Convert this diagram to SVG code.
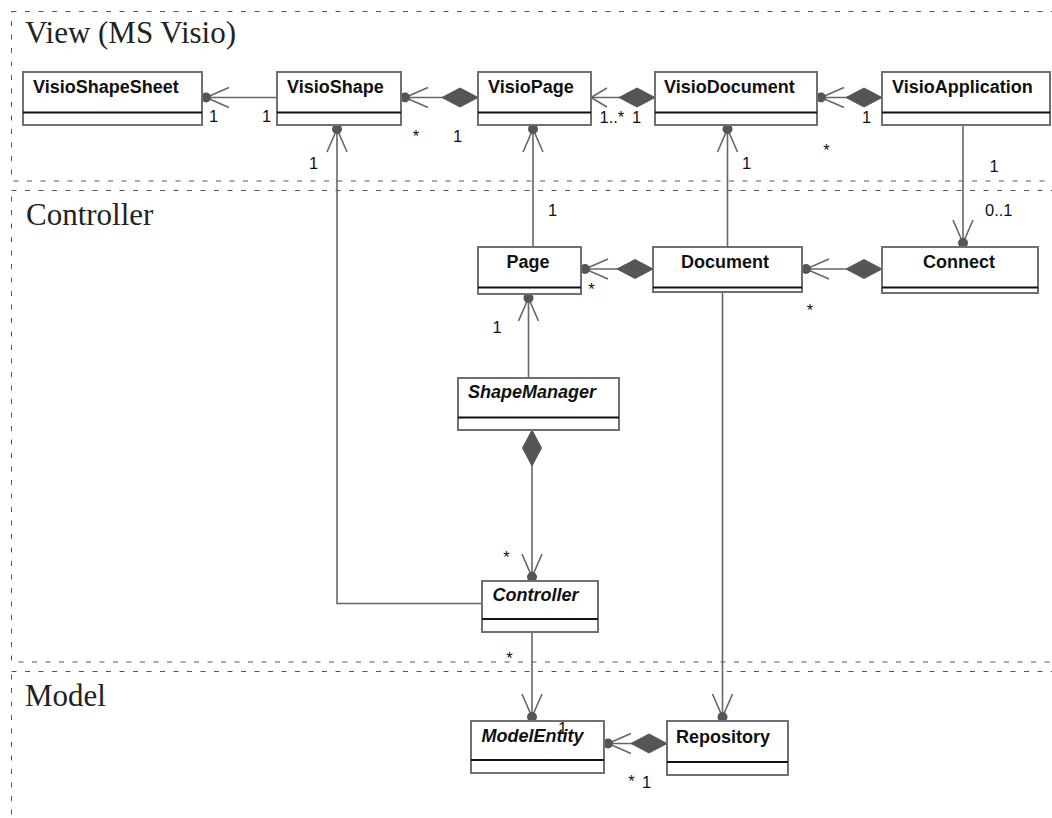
<svg xmlns="http://www.w3.org/2000/svg" width="1052" height="818" viewBox="0 0 1052 818">
<style>
.lane{fill:none;stroke:#555;stroke-width:1;stroke-dasharray:5 8.5}
.lt{font-family:"Liberation Serif","Times New Roman",serif;font-size:31px;fill:#222}
.box{fill:#fff;stroke:#707070;stroke-width:2}
.div{stroke:#111;stroke-width:2}
.name{font-family:"Liberation Sans",Arial,sans-serif;font-size:18px;font-weight:bold;fill:#111}
.it{font-style:italic}
.c{text-anchor:middle}
.con{fill:none;stroke:#666;stroke-width:1.6}
.lbl{font-family:"Liberation Sans",Arial,sans-serif;font-size:16.5px;fill:#111}
</style>
<defs>
<marker id="arrowDot" markerUnits="userSpaceOnUse" orient="auto" refX="0" refY="0" markerWidth="40" markerHeight="30" overflow="visible">
<path d="M-27,-10 L-4,0 L-27,10" fill="none" stroke="#666" stroke-width="1.6"/>
<circle cx="-4" cy="0" r="5" fill="#555"/>
</marker>
<marker id="arrowOpen" markerUnits="userSpaceOnUse" orient="auto" refX="0" refY="0" markerWidth="40" markerHeight="30" overflow="visible">
<path d="M-16,-9.5 L0,0 L-16,9.5" fill="none" stroke="#666" stroke-width="1.6"/>
</marker>
<marker id="diamond" markerUnits="userSpaceOnUse" orient="auto" refX="0" refY="0" markerWidth="40" markerHeight="30" overflow="visible">
<path d="M0,0 L18,-9.5 L36,0 L18,9.5 Z" fill="#555" stroke="#555" stroke-width="1"/>
</marker>
</defs>

<g id="lanes">
<rect class="lane" x="11.5" y="11.5" width="1100" height="169.5"/>
<rect class="lane" x="11.5" y="190.5" width="1100" height="471.5"/>
<rect class="lane" x="11.5" y="671.5" width="1100" height="200"/>
<text class="lt" x="25" y="43">View (MS Visio)</text>
<text class="lt" x="26" y="225">Controller</text>
<text class="lt" x="25" y="706">Model</text>
</g>

<g id="connectors">
<path class="con" d="M277,97.5 H202" marker-end="url(#arrowDot)"/>
<path class="con" d="M478,97.5 H401" marker-start="url(#diamond)" marker-end="url(#arrowDot)"/>
<path class="con" d="M655,97.5 H591" marker-start="url(#diamond)" marker-end="url(#arrowOpen)"/>
<path class="con" d="M882,97.5 H817" marker-start="url(#diamond)" marker-end="url(#arrowDot)"/>
<path class="con" d="M482,603.5 H337 V125" marker-end="url(#arrowDot)"/>
<path class="con" d="M533,247 V125" marker-end="url(#arrowDot)"/>
<path class="con" d="M727.5,247 V125" marker-end="url(#arrowDot)"/>
<path class="con" d="M963,125 V247" marker-end="url(#arrowDot)"/>
<path class="con" d="M653,269 H581" marker-start="url(#diamond)" marker-end="url(#arrowDot)"/>
<path class="con" d="M882,269 H802" marker-start="url(#diamond)" marker-end="url(#arrowDot)"/>
<path class="con" d="M528.5,378 V294" marker-end="url(#arrowDot)"/>
<path class="con" d="M532,430 V581" marker-start="url(#diamond)" marker-end="url(#arrowDot)"/>
<path class="con" d="M532,632 V721" marker-end="url(#arrowDot)"/>
<path class="con" d="M722.5,292 V721" marker-end="url(#arrowDot)"/>
<path class="con" d="M667,743.5 H604" marker-start="url(#diamond)" marker-end="url(#arrowDot)"/>
<g class="lbl">
<text class="c" x="213.5" y="121.5">1</text>
<text class="c" x="266.5" y="121.5">1</text>
<text class="c" x="313.5" y="168.5">1</text>
<text class="c" x="416" y="142">*</text>
<text class="c" x="457.5" y="141.5">1</text>
<text x="599.5" y="122.5">1..*</text>
<text class="c" x="636.5" y="122.5">1</text>
<text class="c" x="866.5" y="122.5">1</text>
<text class="c" x="826.5" y="156">*</text>
<text class="c" x="552.5" y="216">1</text>
<text class="c" x="746.5" y="168.5">1</text>
<text class="c" x="994" y="171.5">1</text>
<text x="985" y="216">0..1</text>
<text class="c" x="591.5" y="294.5">*</text>
<text class="c" x="810" y="316">*</text>
<text class="c" x="497" y="333">1</text>
<text class="c" x="506.5" y="563">*</text>
<text class="c" x="509.5" y="664">*</text>
<text class="c" x="631.5" y="786.5">*</text>
<text class="c" x="646.5" y="787.5">1</text>
</g>
</g>

<g id="VisioShapeSheet">
<rect class="box" x="23" y="72" width="179" height="53"/>
<line class="div" x1="23" y1="112.5" x2="202" y2="112.5"/>
<text class="name" x="33" y="93">VisioShapeSheet</text>
</g>
<g id="VisioShape">
<rect class="box" x="277" y="72" width="124" height="53"/>
<line class="div" x1="277" y1="112.5" x2="401" y2="112.5"/>
<text class="name" x="287" y="93">VisioShape</text>
</g>
<g id="VisioPage">
<rect class="box" x="478" y="72" width="113" height="53"/>
<line class="div" x1="478" y1="112.5" x2="591" y2="112.5"/>
<text class="name" x="488" y="93">VisioPage</text>
</g>
<g id="VisioDocument">
<rect class="box" x="655" y="72" width="162" height="53"/>
<line class="div" x1="655" y1="112.5" x2="817" y2="112.5"/>
<text class="name" x="664" y="93">VisioDocument</text>
</g>
<g id="VisioApplication">
<rect class="box" x="882" y="72" width="168" height="53"/>
<line class="div" x1="882" y1="112.5" x2="1050" y2="112.5"/>
<text class="name" x="892" y="93">VisioApplication</text>
</g>
<g id="Page">
<rect class="box" x="478" y="247" width="103" height="47"/>
<line class="div" x1="478" y1="287.5" x2="581" y2="287.5"/>
<text class="name c" x="528" y="268">Page</text>
</g>
<g id="Document">
<rect class="box" x="653" y="247" width="149" height="45"/>
<line class="div" x1="653" y1="287.5" x2="802" y2="287.5"/>
<text class="name c" x="725" y="268">Document</text>
</g>
<g id="Connect">
<rect class="box" x="882" y="247" width="156" height="46"/>
<line class="div" x1="882" y1="287.5" x2="1038" y2="287.5"/>
<text class="name c" x="959" y="268">Connect</text>
</g>
<g id="ShapeManager">
<rect class="box" x="458" y="378" width="161" height="52"/>
<line class="div" x1="458" y1="417.5" x2="619" y2="417.5"/>
<text class="name it" x="468" y="398">ShapeManager</text>
</g>
<g id="Controller">
<rect class="box" x="482" y="581" width="116" height="51"/>
<line class="div" x1="482" y1="619" x2="598" y2="619"/>
<text class="name it" x="492.5" y="600.5">Controller</text>
</g>
<g id="ModelEntity">
<rect class="box" x="471" y="721" width="133" height="52"/>
<line class="div" x1="471" y1="760" x2="604" y2="760"/>
<text class="name it" x="481.5" y="741.5">ModelEntity</text>
</g>
<g id="Repository">
<rect class="box" x="667" y="721" width="121" height="54"/>
<line class="div" x1="667" y1="762" x2="788" y2="762"/>
<text class="name" x="676" y="742.5">Repository</text>
</g>
<text class="lbl c" x="562.5" y="734">1</text>
</svg>
